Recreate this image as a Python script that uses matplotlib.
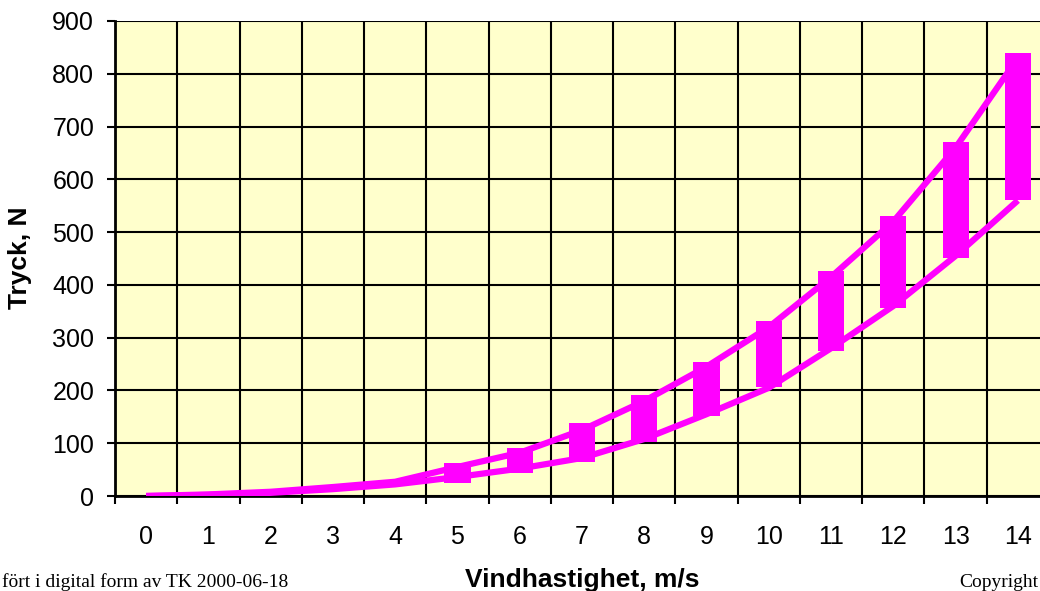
import numpy as np
import matplotlib.pyplot as plt
from matplotlib.ticker import MultipleLocator

# wind speed categories (m/s)
speed = list(range(15))
# upper and lower pressure curves (N)
upper = [0, 3, 8, 17, 27, 55, 82, 125, 180, 245, 320, 415, 520, 660, 830]
lower = [0, 2, 6, 13, 22, 36, 52, 72, 108, 155, 205, 280, 360, 455, 560]
# bar ends between the curves
bar_low = [0, 2, 6, 13, 22, 25, 44, 64, 102, 152, 206, 275, 356, 451, 560]
bar_high = [0, 3, 8, 17, 27, 62, 91, 138, 191, 254, 332, 426, 530, 670, 840]

magenta = "#FF00FF"

fig = plt.figure(figsize=(10.4, 5.91), dpi=100)
ax = fig.add_axes([115 / 1040, 95 / 591, 934 / 1040, 475 / 591])
ax.set_facecolor("#FFFFCC")

x = np.array(speed)
ax.plot(x, upper, color=magenta, lw=4.5, zorder=3, solid_capstyle="butt")
ax.plot(x, lower, color=magenta, lw=4.5, zorder=3, solid_capstyle="butt")
ax.bar(x, np.array(bar_high) - np.array(bar_low), bottom=bar_low,
       width=0.42, color=magenta, zorder=4)

ax.set_xlim(-0.5, 14.5)
ax.set_ylim(0, 900)
ax.set_xticks(x)
ax.set_xticklabels([str(v) for v in speed])
ax.xaxis.set_minor_locator(MultipleLocator(1, offset=0.5))
ax.yaxis.set_major_locator(MultipleLocator(100))

ax.grid(which="minor", axis="x", color="black", lw=1.5, zorder=1)
ax.grid(which="major", axis="y", color="black", lw=1.5, zorder=1)
ax.set_axisbelow(True)

ax.tick_params(axis="x", which="major", length=0, pad=21, labelsize=18)
ax.tick_params(axis="x", which="minor", length=6, width=1.5, direction="out")
ax.tick_params(axis="y", length=6, width=1.5, pad=9, labelsize=18)

for s in ["top", "right"]:
    ax.spines[s].set_visible(False)
for s in ["left", "bottom"]:
    ax.spines[s].set_linewidth(2)

for lbl in ax.get_xticklabels() + ax.get_yticklabels():
    lbl.set_family("Liberation Sans")

fig.text(20 / 1040, 1 - 258 / 591, "Tryck, N", rotation=90, ha="center",
         va="center", fontsize=19, fontweight="bold", family="Liberation Sans")
fig.text(582 / 1040, 1 - 587 / 591, "Vindhastighet, m/s", ha="center",
         va="baseline", fontsize=19, fontweight="bold", family="Liberation Sans")
fig.text(2 / 1040, 1 - 587 / 591, "fört i digital form av TK 2000-06-18",
         ha="left", va="baseline", fontsize=14, family="Liberation Serif")
fig.text(1038 / 1040, 1 - 587 / 591, "Copyright", ha="right", va="baseline",
         fontsize=14, family="Liberation Serif")

fig.savefig("out.png", dpi=100)
